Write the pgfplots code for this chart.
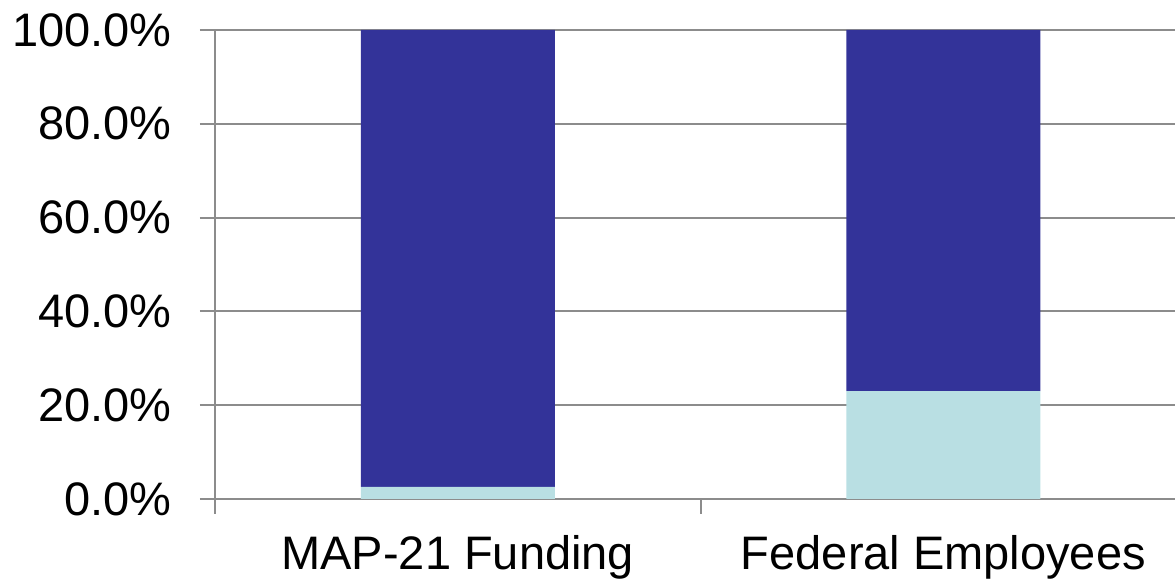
\documentclass[border=0pt]{standalone}
\usepackage{fontspec}
\setmainfont{Liberation Sans}
\usepackage{pgfplots}
\pgfplotsset{compat=1.18}
\definecolor{darkbar}{RGB}{51,51,153}
\definecolor{lightbar}{RGB}{185,223,227}
\definecolor{gridgray}{RGB}{140,140,140}
\begin{document}
\begin{tikzpicture}
\begin{axis}[
  name=ax, at={(0,0)}, anchor=south west,
  scale only axis,
  width=480pt, height=234.5pt,
  ybar stacked,
  bar width=97pt,
  xmin=-0.5, xmax=1.477,
  ymin=0, ymax=100,
  axis lines*=left,
  axis line style={gridgray, line width=1pt},
  xtick={-0.5,0.5},
  xticklabels={},
  x tick style={gridgray, line width=1pt},
  extra x ticks={0,1},
  extra x tick labels={MAP-21 Funding, Federal Employees},
  extra x tick style={major tick length=0pt, grid=none,
     x tick label style={anchor=north, inner sep=0pt, yshift=-18pt}},
  ytick={0,20,40,60,80,100},
  yticklabels={0.0\%,20.0\%,40.0\%,60.0\%,80.0\%,100.0\%},
  y tick label style={anchor=east, inner sep=0pt, xshift=-14pt},
  major tick length=7.5pt,
  tick align=outside,
  y tick style={gridgray, line width=1pt},
  ymajorgrids,
  grid style={gridgray, line width=1pt},
  tick label style={font=\fontsize{23.5}{28}\selectfont},
  clip=false,
]
\addplot[fill=lightbar, draw=none] coordinates {(0,2.6) (1,23.0)};
\addplot[fill=darkbar, draw=none] coordinates {(0,97.4) (1,77.0)};
\end{axis}
\pgfresetboundingbox
\path (-107.5pt,-41.5pt) rectangle (480pt,249.5pt);
\end{tikzpicture}
\end{document}
